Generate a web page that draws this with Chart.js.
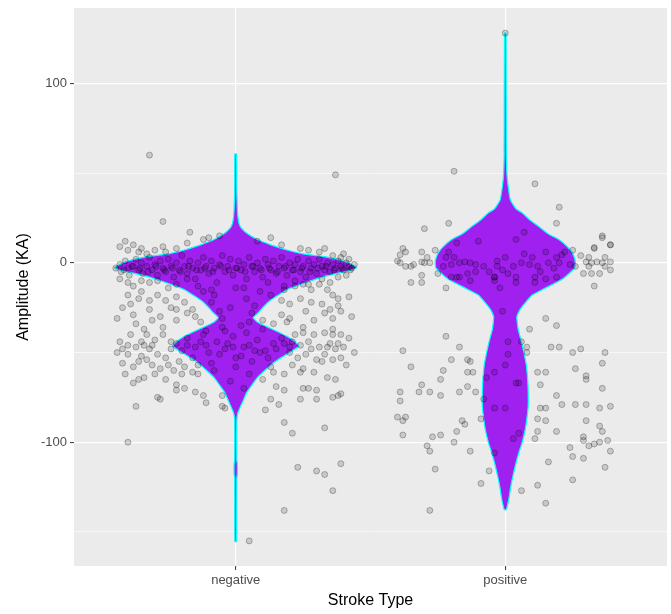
<!DOCTYPE html>
<html>
<head>
<meta charset="utf-8">
<script src="https://cdn.jsdelivr.net/npm/chart.js@4.4.1/dist/chart.umd.min.js"></script>
<style>
  body { margin: 0; background: #fff; }
  canvas { display: block; }
</style>
</head>
<body>
<canvas id="grafico" width="671" height="614"></canvas>
<script>
// categorias y ticks
const categorias = ['negative', 'positive'];
const ticksY = [-150, -100, -50, 0, 50, 100];

// perfil del violin (valor, semiancho en unidades de x)
const negViolinY = [60.7, 40, 30, 25.6, 22, 19.5, 16, 12.8, 10, 7, 5, 3.3, 1, -1, -2.8, -4, -5.6, -8, -11, -15,
  -19, -22, -25, -28, -30.6, -33, -35.6, -38, -41, -44, -46.5, -49, -53, -56, -59.6, -64, -69, -72.5, -76, -80,
  -83.6, -87.5, -110, -112, -118, -120, -155.4];
const negViolinHalf = [0.003, 0.004, 0.006, 0.008, 0.012, 0.02, 0.045, 0.082, 0.13, 0.193, 0.25, 0.334, 0.40, 0.43, 0.449, 0.43, 0.386, 0.32, 0.26, 0.19,
  0.148, 0.12, 0.10, 0.082, 0.065, 0.08, 0.115, 0.15, 0.19, 0.22, 0.234, 0.21, 0.167, 0.138, 0.111, 0.08, 0.056, 0.04, 0.03, 0.018,
  0.008, 0.004, 0.004, 0.006, 0.006, 0.004, 0.003];

const posViolinY = [128, 61, 50, 46, 40, 35, 30, 27.8, 24, 20, 16, 12.8, 9, 5.5, 2, 0, -3, -7.8, -9.5, -13,
  -15, -18, -22.3, -26, -30, -34, -37.3, -44, -50, -57, -65, -72, -80, -87, -93, -100, -106, -112, -119, -125,
  -130, -134, -137.6];
const posViolinHalf = [0.003, 0.004, 0.006, 0.008, 0.013, 0.019, 0.04, 0.063, 0.09, 0.126, 0.16, 0.20, 0.23, 0.249, 0.258, 0.26, 0.257, 0.223, 0.208, 0.163,
  0.137, 0.10, 0.074, 0.055, 0.043, 0.045, 0.048, 0.06, 0.069, 0.078, 0.083, 0.085, 0.085, 0.08, 0.074, 0.063, 0.05, 0.039, 0.028, 0.02,
  0.015, 0.01, 0.004];

// puntos con jitter: [desplazamiento x, amplitud]
const negPoints = [
  // banda superior
  [-0.445,-3],[-0.43,-1],[-0.425,-5],[-0.41,1],[-0.40,-3],[-0.395,-7],[-0.38,-2],[-0.37,2],[-0.36,-4],[-0.35,0],
  [-0.345,-6],[-0.33,-2],[-0.32,3],[-0.31,-4],[-0.30,-1],[-0.29,-7],[-0.28,1],[-0.27,-3],[-0.26,-5],[-0.25,2],
  [-0.24,-2],[-0.23,-8],[-0.22,0],[-0.21,-4],[-0.20,4],[-0.19,-2],[-0.18,-6],[-0.17,1],[-0.16,-3],[-0.15,-9],
  [-0.14,0],[-0.13,-4],[-0.12,3],[-0.11,-2],[-0.10,-6],[-0.09,1],[-0.08,-3],[-0.07,-11],[-0.06,-1],[-0.05,4],
  [-0.04,-5],[-0.03,-2],[-0.02,2],[-0.01,-7],[0.00,-3],[0.01,1],[0.02,-4],[0.03,-1],[0.04,-9],[0.05,3],
  [0.06,-2],[0.07,-5],[0.08,0],[0.09,-3],[0.10,-8],[0.11,2],[0.12,-1],[0.13,-4],[0.14,1],[0.15,-6],
  [0.16,-2],[0.17,3],[0.18,-3],[0.19,-7],[0.20,0],[0.21,-4],[0.22,-1],[0.23,2],[0.24,-5],[0.25,-2],
  [0.26,-8],[0.27,1],[0.28,-3],[0.29,-1],[0.30,-6],[0.31,2],[0.32,-2],[0.33,-4],[0.34,0],[0.35,-5],
  [0.36,-1],[0.37,-3],[0.38,1],[0.39,-2],[0.40,-4],[0.41,0],[0.42,-2],[0.43,-3],[0.44,-1],
  [-0.415,-4],[-0.385,-2],[-0.355,-3],[-0.325,-5],[-0.295,-2],[-0.265,-4],[-0.235,-3],[-0.205,-5],[-0.175,-2],[-0.145,-4],
  [-0.115,-3],[-0.085,-5],[-0.055,-2],[-0.025,-4],[0.005,-3],[0.035,-5],[0.065,-2],[0.095,-4],[0.125,-3],[0.155,-5],
  [0.185,-2],[0.215,-4],[0.245,-3],[0.275,-5],[0.305,-3],[0.335,-2],[0.365,-4],[0.395,-3],[0.425,-4],
  [-0.43,9],[-0.41,12],[-0.40,7],[-0.38,10],[-0.36,6],[-0.35,8],[-0.33,5],[-0.30,7],[-0.27,9],[-0.26,6],
  [-0.22,8],[-0.18,11],[-0.12,13],[-0.06,15],[0.08,12],[0.17,10],[0.24,8],[0.27,7],[0.31,6],[0.33,8],
  [0.36,4],[0.39,3],[0.40,5],[0.42,2],[0.13,14],[-0.10,14],[-0.17,17],[-0.27,23],
  [-0.43,-9],[-0.40,-11],[-0.38,-13],[-0.35,-10],[-0.32,-11],[-0.29,-10],[-0.25,-14],[-0.22,-12],[-0.18,-9],[-0.14,-13],
  [-0.09,-15],[0.03,-14],[0.12,-11],[0.18,-13],[0.22,-10],[0.27,-12],[0.32,-9],[0.35,-11],[0.38,-8],[0.41,-7],
  // zona media
  [-0.40,-18],[-0.39,-23],[-0.36,-20],[-0.38,-29],[-0.32,-26],[-0.32,-21],[-0.31,-32],[-0.28,-30],[-0.24,-25],[-0.22,-19],
  [-0.22,-26],[-0.22,-32],[-0.19,-22],[-0.18,-28],[-0.16,-26],[-0.13,-33],[-0.37,-34],[-0.34,-37],[-0.27,-36],[-0.15,-30],
  [-0.42,-25],[-0.44,-31],[-0.35,-16],[-0.29,-18],[-0.26,-21],
  [0.18,-15],[0.22,-13],[0.25,-12],[0.28,-15],[0.31,-12],[0.34,-15],[0.36,-18],[0.38,-20],[0.17,-21],[0.20,-23],
  [0.24,-20],[0.28,-22],[0.32,-23],[0.35,-26],[0.38,-24],[0.17,-29],[0.20,-31],[0.26,-27],[0.29,-32],[0.33,-28],
  [0.36,-31],[0.39,-27],[0.19,-33],[0.25,-36],[0.36,-37],[0.14,-34],[0.10,-32],[0.42,-19],[0.43,-30],
  [-0.08,-18],[0.04,-20],[-0.02,-25],[0.06,-28],[-0.05,-31],[0.02,-35],[-0.09,-22],[0.09,-16],[-0.04,-38],[0.07,-24],
  [-0.12,-16],[0.13,-18],[0.00,-14],[-0.06,-27],[0.05,-33],
  // banda inferior
  [-0.39,-40],[-0.33,-40],[-0.31,-46],[-0.27,-40],[-0.24,-44],[-0.40,-46],[-0.37,-47],[-0.40,-51],[-0.35,-52],[-0.33,-54],
  [-0.29,-51],[-0.26,-53],[-0.24,-48],[-0.21,-55],[-0.19,-58],[-0.16,-61],[-0.14,-62],[-0.43,-44],[-0.42,-56],[-0.38,-58],
  [-0.36,-55],[-0.31,-57],[-0.28,-59],[-0.23,-60],[-0.44,-50],[-0.41,-62],[-0.30,-43],[-0.35,-44],[-0.25,-57],[-0.20,-62],
  [-0.32,-48],[-0.34,-46],[-0.42,-48],
  [0.22,-40],[0.25,-39],[0.29,-40],[0.33,-39],[0.36,-40],[0.39,-40],[0.24,-46],[0.28,-48],[0.31,-47],[0.35,-45],
  [0.37,-48],[0.40,-47],[0.23,-53],[0.26,-51],[0.30,-54],[0.33,-51],[0.36,-54],[0.39,-53],[0.21,-57],[0.25,-59],
  [0.32,-55],[0.42,-42],[0.44,-50],[0.41,-57],[0.27,-44],[0.20,-50],[0.34,-47],[0.38,-45],
  [-0.22,-45],[-0.18,-42],[-0.15,-47],[-0.12,-40],[-0.10,-50],[-0.07,-44],[-0.04,-48],[-0.01,-41],[0.02,-52],[0.05,-46],
  [0.08,-43],[0.11,-49],[0.14,-45],[0.17,-42],[0.20,-47],[-0.20,-49],[-0.16,-53],[-0.13,-44],[-0.09,-56],[-0.06,-51],
  [-0.03,-45],[0.00,-58],[0.03,-47],[0.06,-55],[0.09,-50],[0.12,-53],[0.15,-48],[-0.11,-38],[-0.05,-36],[0.04,-39],
  [0.10,-37],[-0.08,-60],[0.05,-62],[-0.02,-66],[0.03,-70],[-0.18,-46],[0.18,-45],[0.21,-44],[-0.14,-57],[0.13,-58],
  [-0.05,-74],[0.00,-53],[-0.11,-46],[0.07,-49],[-0.01,-47],
  // cola
  [-0.37,-80],[-0.28,-76],[-0.29,-75],[-0.15,-72],[-0.11,-78],[-0.05,-80],[-0.04,-81],[-0.38,-67],[-0.36,-65],[-0.34,-64],
  [-0.30,-62],[-0.26,-65],[-0.22,-68],[-0.19,-70],[-0.12,-74],[-0.22,-71],
  [0.11,-82],[0.16,-79],[0.24,-76],[0.27,-70],[0.30,-76],[0.36,-75],[0.38,-74],[0.15,-69],[0.18,-71],[0.25,-70],
  [0.30,-71],[0.39,-73],[0.14,-61],[0.18,-62],[0.24,-61],[0.29,-61],[0.34,-64],[0.37,-65],[0.10,-65],[0.13,-76],
  [-0.32,60],[0.37,49],[-0.40,-100],[0.18,-89],[0.21,-95],[0.33,-92],[0.23,-114],[0.30,-116],[0.33,-118],[0.39,-112],
  [0.36,-127],[0.18,-138],[0.05,-155]
];

const posPoints = [
  [0.00,128],[-0.19,51],[0.11,44],[0.20,31],[0.19,22],[-0.21,22],[-0.30,19],[-0.10,12],[0.36,15],[0.39,10],
  [0.33,8],[0.25,7],[-0.38,8],[-0.37,6],[-0.31,6],[-0.26,7],[0.04,13],[0.07,17],
  [-0.39,4.5],[-0.40,1],[-0.39,0],[-0.37,-2],[-0.35,-2],[-0.34,-1],[-0.31,0.5],[-0.30,0],[-0.29,3],[-0.28,0],
  [-0.31,-7],[-0.35,-11],[-0.31,-11],[-0.22,-14],[-0.25,-6],[-0.18,-8],[-0.04,-8],[0.19,-8],[0.26,-2],
  [-0.21,6],[-0.19,3],[-0.20,-1],[-0.17,0],[-0.15,0.5],[-0.13,0],[-0.11,-1],[-0.08,-2],[-0.06,-5],[-0.03,1],
  [-0.03,-2],[-0.01,-4],[0.01,-6],[0.03,-2],[0.07,5],[0.06,0],[0.09,-1],[0.10,3],[0.12,-2],[0.13,-5],
  [0.15,6],[0.16,0],[0.18,-3],[0.19,3],[0.21,4.5],[0.20,0],[0.22,6],[0.24,-1],[-0.14,-6],[-0.11,-5],
  [-0.20,-8],[-0.17,-8],[-0.13,-10],[-0.04,-8],[0.04,-8],[0.11,-8],[0.15,-9],[-0.18,11],[-0.22,3],[-0.23,-2],
  [0.00,3],[-0.04,-10],[0.04,-11],[0.11,-11],[-0.02,-14],
  [0.28,4],[0.30,0.5],[0.31,3],[0.33,8.5],[0.36,14],[0.32,0],[0.34,0.5],[0.36,0],[0.37,3],[0.39,0.5],
  [0.37,-2],[0.29,-6],[0.32,-6],[0.35,-6],[0.39,-4],[0.39,10],[0.33,-13],[0.31,-2],
  [-0.01,-27],[0.15,-31],[0.19,-35],[0.09,-37],[-0.22,-41],[0.06,-44],[0.01,-44],[-0.17,-47],[0.17,-47],[0.20,-47],
  [0.08,-47],[0.08,-50],[-0.38,-49],[0.25,-50],[0.28,-48],[0.37,-50],[0.36,-56],[-0.20,-54],[-0.14,-54],[-0.13,-55],
  [0.01,-51],[0.00,-57],[-0.35,-58],[-0.23,-60],[-0.14,-61],[-0.12,-61],[-0.04,-61],[0.12,-61],[0.15,-61],[0.26,-59],
  [0.30,-63],[0.30,-65],[-0.24,-65],[-0.07,-64],[-0.31,-68],[-0.14,-69],[-0.11,-72],[0.04,-67],[0.05,-67],[0.13,-68],
  [0.36,-70],[-0.39,-72],[-0.32,-72],[-0.28,-72],[-0.17,-72],[-0.24,-74],[0.19,-74],[-0.39,-77],[-0.08,-76],[-0.04,-81],
  [0.00,-81],[0.21,-79],[0.26,-79],[0.30,-79],[0.35,-81],[0.39,-80],[0.13,-81],[0.15,-81],[-0.40,-86],[-0.38,-88],
  [-0.37,-86],[-0.16,-88],[-0.15,-90],[-0.09,-87],[0.12,-87],[0.15,-88],[0.30,-88],[0.35,-91],[0.36,-94],[-0.38,-96],
  [-0.27,-97],[-0.24,-96],[-0.18,-94],[-0.19,-100],[0.03,-98],[0.05,-95],[0.12,-94],[0.11,-98],[0.19,-94],[0.29,-97],
  [0.29,-99],[0.31,-102],[0.33,-101],[0.35,-100],[0.38,-99],[-0.29,-102],[-0.28,-105],[-0.13,-105],[-0.04,-106],[0.24,-103],
  [0.25,-108],[0.29,-109],[0.39,-105],[0.16,-111],[0.37,-114],[-0.26,-115],[-0.06,-116],[0.25,-121],[-0.09,-123],[0.12,-124],
  [0.06,-127],[0.15,-134],[-0.28,-138]
];

// construir el poligono del violin a partir del perfil
function contornoViolin(centro, valores, semianchos) {
    const derecha = valores.map((v, i) => ({ x: centro + semianchos[i], y: v }));
    const izquierda = valores.map((v, i) => ({ x: centro - semianchos[i], y: v })).reverse();
    return derecha.concat(izquierda, [derecha[0]]);
}

function puntosJitter(centro, puntos) {
    return puntos.map(p => ({ x: centro + p[0], y: p[1] }));
}

// fondo gris del panel
const fondoPanel = {
    id: 'fondoPanel',
    beforeDraw(chart) {
        const { ctx, chartArea } = chart;
        ctx.save();
        ctx.fillStyle = '#EBEBEB';
        ctx.fillRect(chartArea.left, chartArea.top, chartArea.right - chartArea.left, chartArea.bottom - chartArea.top);
        ctx.restore();
    }
};

const estiloPunto = {
    type: 'scatter',
    pointRadius: 3,
    pointHoverRadius: 3,
    backgroundColor: 'rgba(0,0,0,0.15)',
    borderColor: 'rgba(0,0,0,0.26)',
    borderWidth: 1,
    order: 0
};

const estiloViolin = {
    type: 'line',
    showLine: true,
    fill: 'shape',
    backgroundColor: '#A020F0',
    borderColor: '#00FFFF',
    borderWidth: 1.2,
    pointRadius: 0,
    tension: 0.15,
    order: 1
};

new Chart(document.getElementById('grafico'), {
    type: 'scatter',
    data: {
        datasets: [
            Object.assign({ label: 'puntos negative', data: puntosJitter(1, negPoints) }, estiloPunto),
            Object.assign({ label: 'puntos positive', data: puntosJitter(2, posPoints) }, estiloPunto),
            Object.assign({ label: 'violin negative', data: contornoViolin(1, negViolinY, negViolinHalf) }, estiloViolin),
            Object.assign({ label: 'violin positive', data: contornoViolin(2, posViolinY, posViolinHalf) }, estiloViolin)
        ]
    },
    options: {
        responsive: false,
        animation: false,
        layout: { padding: { top: 8, right: 3, left: 0, bottom: 0 } },
        plugins: {
            legend: { display: false },
            tooltip: { enabled: false }
        },
        scales: {
            x: {
                type: 'linear',
                min: 0.4,
                max: 2.6,
                afterBuildTicks: scale => { scale.ticks = [{ value: 1 }, { value: 2 }]; },
                afterFit: scale => { scale.height = 48; scale.paddingLeft = 0; scale.paddingRight = 0; },
                border: { display: false },
                grid: { color: '#FFFFFF', lineWidth: 1.2, tickLength: 4, tickColor: '#333333', tickWidth: 1 },
                ticks: {
                    padding: 3,
                    color: '#4D4D4D',
                    font: { family: 'Liberation Sans, Arial, sans-serif', size: 13 },
                    callback: v => categorias[v - 1]
                },
                title: {
                    display: true,
                    text: 'Stroke Type',
                    color: '#000000',
                    font: { family: 'Liberation Sans, Arial, sans-serif', size: 16 },
                    padding: { top: 0, bottom: 4 }
                }
            },
            y: {
                min: -169,
                max: 142,
                afterBuildTicks: scale => { scale.ticks = ticksY.map(v => ({ value: v })); },
                afterFit: scale => { scale.width = 74; scale.paddingTop = 0; scale.paddingBottom = 0; },
                border: { display: false },
                grid: {
                    color: '#FFFFFF',
                    lineWidth: ctx => (ctx.tick && ctx.tick.value % 100 === 0) ? 1.2 : 0.6,
                    tickLength: 4,
                    tickWidth: 1,
                    tickColor: ctx => (ctx.tick && ctx.tick.value % 100 === 0) ? '#333333' : 'rgba(0,0,0,0)'
                },
                ticks: {
                    padding: 3,
                    color: '#4D4D4D',
                    font: { family: 'Liberation Sans, Arial, sans-serif', size: 13 },
                    callback: v => (v % 100 === 0 ? String(v) : '')
                },
                title: {
                    display: true,
                    text: 'Amplitude (KA)',
                    color: '#000000',
                    font: { family: 'Liberation Sans, Arial, sans-serif', size: 16 },
                    padding: { top: 14, bottom: 0 }
                }
            }
        }
    },
    plugins: [fondoPanel]
});
</script>
</body>
</html>
